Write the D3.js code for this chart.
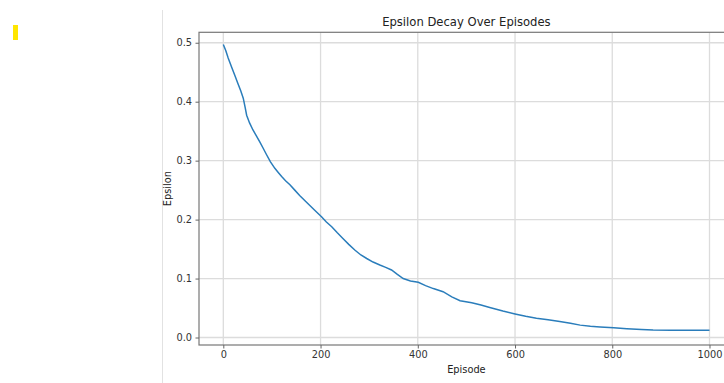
<!DOCTYPE html>
<html>
<head>
<meta charset="utf-8">
<script src="https://cdn.jsdelivr.net/npm/d3@7"></script>
<style>
  body { margin: 0; background: #fff; }
  svg { display: block; font-family: "DejaVu Sans", sans-serif; }
</style>
</head>
<body>
<svg id="chart"></svg>
<script>
const width = 724, height = 383;

// values
const episodes = [0, 5, 10, 17, 24, 30, 36, 41, 45, 48, 54, 61, 68, 75, 82, 89, 97, 106, 113, 120,
  128, 137, 147, 157, 168, 178, 188, 202, 212, 223, 234, 246, 258, 271, 283, 295, 308, 322, 334, 346,
  358, 370, 385, 401, 416, 432, 452, 470, 487, 511, 530, 548, 575, 600, 622, 644, 668, 692, 714, 734,
  755, 775, 803, 830, 860, 884, 920, 960, 1000];
const epsilon = [0.497, 0.487, 0.474, 0.459, 0.444, 0.431, 0.418, 0.406, 0.390, 0.377, 0.364, 0.352, 0.342, 0.332, 0.321, 0.310, 0.298, 0.287, 0.280, 0.273,
  0.266, 0.259, 0.250, 0.241, 0.232, 0.224, 0.216, 0.205, 0.196, 0.188, 0.178, 0.168, 0.158, 0.148, 0.140, 0.134, 0.128, 0.123, 0.119, 0.1145,
  0.107, 0.100, 0.096, 0.0936, 0.088, 0.083, 0.0777, 0.069, 0.0625, 0.059, 0.055, 0.051, 0.045, 0.040, 0.036, 0.0325, 0.030, 0.027, 0.024, 0.021,
  0.019, 0.018, 0.0167, 0.015, 0.0135, 0.0127, 0.0122, 0.0122, 0.0122];
const xTicks = [0, 200, 400, 600, 800, 1000];
const yTicks = [0.0, 0.1, 0.2, 0.3, 0.4, 0.5];
const title = 'Epsilon Decay Over Episodes';
const xTitle = 'Episode', yTitle = 'Epsilon';

const data = episodes.map((e, i) => ({ e, v: epsilon[i] }));

const plot = { left: 199, top: 32.3, right: 733.8, bottom: 345 };

const svg = d3.select('#chart').attr('width', width).attr('height', height);

// notebook cell marker and divider
svg.append('rect').attr('x', 13).attr('y', 25).attr('width', 5).attr('height', 15).attr('fill', '#ffe600');
svg.append('line').attr('x1', 162.5).attr('x2', 162.5).attr('y1', 10).attr('y2', height)
  .attr('stroke', '#e2e2e2').attr('stroke-width', 1);

const x = d3.scaleLinear().domain([-50, 1050]).range([plot.left, plot.right]);
const y = d3.scaleLinear().domain([-0.0127, 0.5177]).range([plot.bottom, plot.top]);

// grid
const grid = svg.append('g').attr('stroke', '#dcdcdc').attr('stroke-width', 1.3);
grid.selectAll('.gx').data(xTicks).enter().append('line')
  .attr('x1', d => x(d)).attr('x2', d => x(d)).attr('y1', plot.top).attr('y2', plot.bottom);
grid.selectAll('.gy').data(yTicks).enter().append('line')
  .attr('x1', plot.left).attr('x2', plot.right).attr('y1', d => y(d)).attr('y2', d => y(d));

// line
svg.append('path').datum(data)
  .attr('fill', 'none')
  .attr('stroke', '#2a7dbb')
  .attr('stroke-width', 1.5)
  .attr('d', d3.line().x(d => x(d.e)).y(d => y(d.v)));

// frame
svg.append('rect')
  .attr('x', plot.left).attr('y', plot.top)
  .attr('width', plot.right - plot.left).attr('height', plot.bottom - plot.top)
  .attr('fill', 'none').attr('stroke', '#777').attr('stroke-width', 1.2);

// axes
const xAxis = svg.append('g').attr('transform', `translate(0,${plot.bottom})`)
  .call(d3.axisBottom(x).tickValues(xTicks).tickFormat(d3.format('d')).tickSize(3.5).tickPadding(3));
const yAxis = svg.append('g').attr('transform', `translate(${plot.left},0)`)
  .call(d3.axisLeft(y).tickValues(yTicks).tickFormat(d3.format('.1f')).tickSize(3.5).tickPadding(3.5));

[xAxis, yAxis].forEach(a => {
  a.select('.domain').remove();
  a.selectAll('.tick line').attr('stroke', '#666');
  a.selectAll('.tick text').attr('fill', '#333').attr('font-size', 9.8)
    .attr('font-family', '"DejaVu Sans", sans-serif');
});

// labels
svg.append('text').attr('x', (plot.left + plot.right) / 2).attr('y', 25.5)
  .attr('text-anchor', 'middle').attr('font-size', 11.6).attr('fill', '#222').text(title);
svg.append('text').attr('x', (plot.left + plot.right) / 2).attr('y', 373)
  .attr('text-anchor', 'middle').attr('font-size', 9.8).attr('fill', '#222').text(xTitle);
svg.append('text').attr('transform', `translate(171,${(plot.top + plot.bottom) / 2}) rotate(-90)`)
  .attr('text-anchor', 'middle').attr('font-size', 9.8).attr('fill', '#222').text(yTitle);
</script>
</body>
</html>
